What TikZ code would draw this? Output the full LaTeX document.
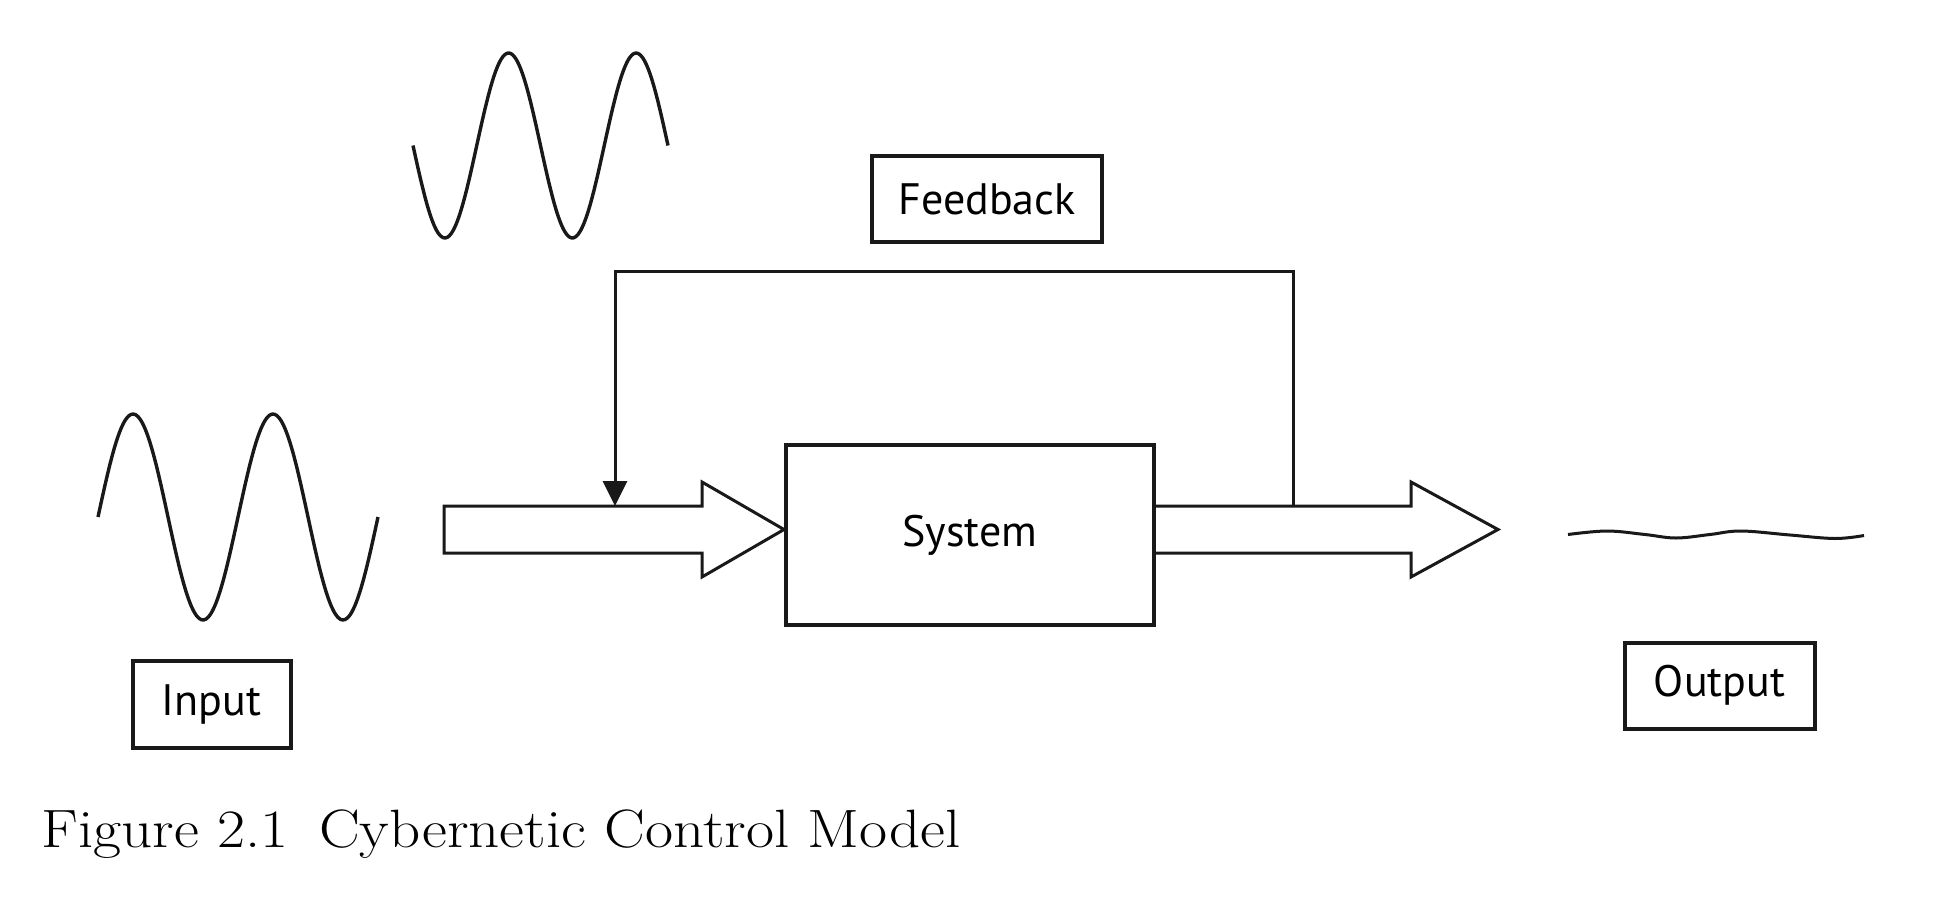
\documentclass[tikz,border=0pt]{standalone}
\usepackage{fontspec}
\newfontfamily\labelfont{PT Sans}
\usetikzlibrary{arrows.meta}
\tikzset{
  labelbox/.style={draw=black!90, line width=2pt, inner sep=0pt, font=\labelfont\fontsize{22}{26}\selectfont},
  blockarrow/.style={draw=black!90, line width=1.5pt, line join=miter},
  wave/.style={draw=black!90, line width=1.7pt, line cap=butt},
  fbline/.style={draw=black!90, line width=1.5pt, -{Triangle[length=12.5pt,width=12pt]}}
}
\begin{document}
\begin{tikzpicture}[x=0.5pt,y=-0.5pt]
\useasboundingbox (0,0) rectangle (1944,900);
\fill[white] (0,0) rectangle (1944,900);
% boxes
\node[labelbox, minimum width=184pt, minimum height=90pt] (system) at (970,535) {System};
\node[labelbox, minimum width=115pt, minimum height=43pt] (feedback) at (987,199) {Feedback};
\node[labelbox, minimum width=79pt, minimum height=43.5pt] (input) at (211.5,704.5) {Input};
\node[labelbox, minimum width=95pt, minimum height=43pt] (output) at (1719.5,685.5) {Output};
% caption
\node[anchor=base west, inner sep=0pt, font=\fontsize{27}{32}\selectfont] (caption) at (41,847) {\scalebox{1.13}[1]{Figure 2.1\enspace Cybernetic Control Model}};
% block arrows
\coordinate (inTip) at (system.west |- 0,529.5);
\coordinate (outTip) at (1498,529.5);
\draw[blockarrow] (444,506) -- (702,506) -- (702,482) -- (inTip) -- (702,577) -- (702,553) -- (444,553) -- cycle;
\draw[blockarrow] (system.east |- 0,506) -- (1411,506) -- (1411,482) -- (outTip) -- (1411,577) -- (1411,553) -- (system.east |- 0,553);
% feedback loop
\coordinate (fbStart) at (1293,506);
\coordinate (fbCorner) at (1293,271.5);
\coordinate (fbEnd) at (615,506);
\draw[fbline] (fbStart) -- (fbCorner) -| (fbEnd);
% waves
\draw[wave] plot[domain=413:668, samples=120, smooth] (\x,{145.5+92.5*sin((\x-413)/127.5*360)});
\draw[wave] plot[domain=98:378, samples=120, smooth] (\x,{517-103*sin((\x-98)/140*360)});
\draw[wave, line width=1.5pt] plot[smooth, tension=0.6] coordinates {(1568,534.5) (1607,531) (1645,534.5) (1676,538) (1710,534.5) (1741,531) (1790,535) (1835,538.5) (1864,535.5)};
\end{tikzpicture}
\end{document}
